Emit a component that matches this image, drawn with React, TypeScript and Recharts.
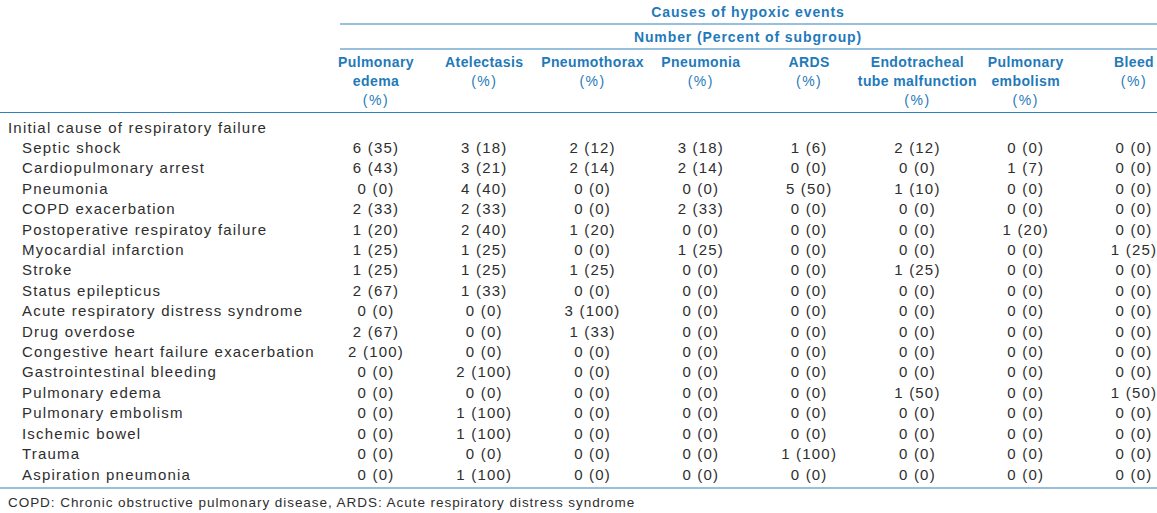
import { ScatterChart, Scatter, XAxis, YAxis } from 'recharts'

const causes = [
  'Pulmonary edema',
  'Atelectasis',
  'Pneumothorax',
  'Pneumonia',
  'ARDS',
  'Endotracheal tube malfunction',
  'Pulmonary embolism',
  'Bleed',
]

const causeHeaderLines = [
  ['Pulmonary', 'edema'],
  ['Atelectasis'],
  ['Pneumothorax'],
  ['Pneumonia'],
  ['ARDS'],
  ['Endotracheal', 'tube malfunction'],
  ['Pulmonary', 'embolism'],
  ['Bleed'],
]

const groupHeading = 'Initial cause of respiratory failure'

const initialCauses = [
  'Septic shock',
  'Cardiopulmonary arrest',
  'Pneumonia',
  'COPD exacerbation',
  'Postoperative respiratoy failure',
  'Myocardial infarction',
  'Stroke',
  'Status epilepticus',
  'Acute respiratory distress syndrome',
  'Drug overdose',
  'Congestive heart failure exacerbation',
  'Gastrointestinal bleeding',
  'Pulmonary edema',
  'Pulmonary embolism',
  'Ischemic bowel',
  'Trauma',
  'Aspiration pneumonia',
]

// number of events, one row per initial cause, columns follow `causes`
const counts = [
  [6, 3, 2, 3, 1, 2, 0, 0],
  [6, 3, 2, 2, 0, 0, 1, 0],
  [0, 4, 0, 0, 5, 1, 0, 0],
  [2, 2, 0, 2, 0, 0, 0, 0],
  [1, 2, 1, 0, 0, 0, 1, 0],
  [1, 1, 0, 1, 0, 0, 0, 1],
  [1, 1, 1, 0, 0, 1, 0, 0],
  [2, 1, 0, 0, 0, 0, 0, 0],
  [0, 0, 3, 0, 0, 0, 0, 0],
  [2, 0, 1, 0, 0, 0, 0, 0],
  [2, 0, 0, 0, 0, 0, 0, 0],
  [0, 2, 0, 0, 0, 0, 0, 0],
  [0, 0, 0, 0, 0, 1, 0, 1],
  [0, 1, 0, 0, 0, 0, 0, 0],
  [0, 1, 0, 0, 0, 0, 0, 0],
  [0, 0, 0, 0, 1, 0, 0, 0],
  [0, 1, 0, 0, 0, 0, 0, 0],
]

// percent of subgroup
const percents = [
  [35, 18, 12, 18, 6, 12, 0, 0],
  [43, 21, 14, 14, 0, 0, 7, 0],
  [0, 40, 0, 0, 50, 10, 0, 0],
  [33, 33, 0, 33, 0, 0, 0, 0],
  [20, 40, 20, 0, 0, 0, 20, 0],
  [25, 25, 0, 25, 0, 0, 0, 25],
  [25, 25, 25, 0, 0, 25, 0, 0],
  [67, 33, 0, 0, 0, 0, 0, 0],
  [0, 0, 100, 0, 0, 0, 0, 0],
  [67, 0, 33, 0, 0, 0, 0, 0],
  [100, 0, 0, 0, 0, 0, 0, 0],
  [0, 100, 0, 0, 0, 0, 0, 0],
  [0, 0, 0, 0, 0, 50, 0, 50],
  [0, 100, 0, 0, 0, 0, 0, 0],
  [0, 100, 0, 0, 0, 0, 0, 0],
  [0, 0, 0, 0, 100, 0, 0, 0],
  [0, 100, 0, 0, 0, 0, 0, 0],
]

const FONT = '"Liberation Sans", Arial, Helvetica, sans-serif'
const BLUE = '#1f7ab9'
const RULE = '#2f82ba'
const INK = '#2e2e2e'

const W = 1157
const H = 513

const rowCategories = [groupHeading, ...initialCauses]

const cells = [
  { col: causes[0], row: groupHeading, label: '' },
  ...initialCauses.flatMap((row, r) =>
    causes.map((col, c) => ({ col, row, label: `${counts[r][c]} (${percents[r][c]})` }))
  ),
]

function HeaderTick({ x, payload }: any) {
  const idx = causes.indexOf(payload.value)
  const lines = causeHeaderLines[idx] ?? [payload.value]
  return (
    <g>
      {lines.map((l, i) => (
        <text
          key={i}
          x={x}
          y={62 + i * 19}
          textAnchor="middle"
          dominantBaseline="central"
          fontFamily={FONT}
          fontSize={14}
          fontWeight="bold"
          letterSpacing={0.4}
          fill={BLUE}
        >
          {l}
        </text>
      ))}
      <text
        x={x}
        y={62 + lines.length * 19}
        textAnchor="middle"
        dominantBaseline="central"
        fontFamily={FONT}
        fontSize={14}
        letterSpacing={1.5}
        fill={BLUE}
      >
        (%)
      </text>
    </g>
  )
}

function RowTick({ y, payload }: any) {
  const isHeading = payload.value === groupHeading
  return (
    <text
      x={isHeading ? 8 : 22}
      y={y}
      dominantBaseline="central"
      fontFamily={FONT}
      fontSize={15}
      letterSpacing={1.2}
      fill={INK}
    >
      {payload.value}
    </text>
  )
}

function CellText(props: any) {
  const { cx, cy, payload } = props
  return (
    <text
      x={cx}
      y={cy}
      textAnchor="middle"
      dominantBaseline="central"
      fontFamily={FONT}
      fontSize={15}
      letterSpacing={1.2}
      fill={INK}
    >
      {payload.label}
    </text>
  )
}

export default function App() {
  return (
    <div style={{ position: 'absolute', left: 0, top: 0, width: W, height: H, background: '#fff' }}>
      <ScatterChart width={W} height={H} margin={{ top: 0, right: 23, bottom: 39, left: 0 }}>
        <XAxis
          xAxisId="c"
          type="category"
          dataKey="col"
          orientation="top"
          scale="point"
          padding={{ left: 0, right: 0 }}
          height={127}
          allowDuplicatedCategory={false}
          ticks={causes}
          axisLine={false}
          tickLine={false}
          interval={0}
          tick={<HeaderTick />}
        />
        <YAxis
          yAxisId="r"
          type="category"
          dataKey="row"
          scale="point"
          reversed
          padding={{ top: 0, bottom: 0 }}
          width={376}
          allowDuplicatedCategory={false}
          ticks={rowCategories}
          axisLine={false}
          tickLine={false}
          interval={0}
          tick={<RowTick />}
        />
        <Scatter
          xAxisId="c"
          yAxisId="r"
          data={cells}
          isAnimationActive={false}
          shape={<CellText />}
        />
        <line x1={340} x2={W} y1={24} y2={24} stroke={RULE} strokeWidth={1.2} />
        <line x1={340} x2={W} y1={49} y2={49} stroke={RULE} strokeWidth={1.2} />
        <line x1={0} x2={W} y1={112.5} y2={112.5} stroke={RULE} strokeWidth={1.2} />
        <line x1={0} x2={W} y1={488} y2={488} stroke={RULE} strokeWidth={1.2} />
        <text
          x={748}
          y={12}
          textAnchor="middle"
          dominantBaseline="central"
          fontFamily={FONT}
          fontSize={14}
          fontWeight="bold"
          letterSpacing={0.9}
          fill={BLUE}
        >
          Causes of hypoxic events
        </text>
        <text
          x={748}
          y={37}
          textAnchor="middle"
          dominantBaseline="central"
          fontFamily={FONT}
          fontSize={14}
          fontWeight="bold"
          letterSpacing={0.9}
          fill={BLUE}
        >
          Number (Percent of subgroup)
        </text>
        <text
          x={8}
          y={502}
          dominantBaseline="central"
          fontFamily={FONT}
          fontSize={13.5}
          letterSpacing={0.95}
          fill={INK}
        >
          COPD: Chronic obstructive pulmonary disease, ARDS: Acute respiratory distress syndrome
        </text>
      </ScatterChart>
    </div>
  )
}
